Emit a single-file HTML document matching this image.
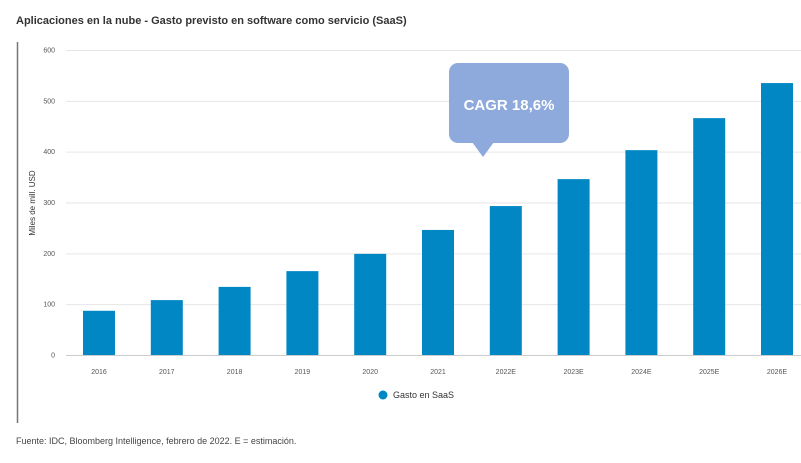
<!DOCTYPE html>
<html><head><meta charset="utf-8"><style>
body{margin:0;background:#fff;width:801px;height:458px;overflow:hidden;font-family:"Liberation Sans",sans-serif}
</style></head><body>
<svg id="c" width="801" height="458">
<text x="16" y="24" font-size="11" font-weight="bold" fill="#333">Aplicaciones en la nube - Gasto previsto en software como servicio (SaaS)</text>
<line x1="17.5" y1="42" x2="17.5" y2="423" stroke="#777" stroke-width="1.5"/>
<g id="grid"></g><g id="bars"></g><g id="xl"></g>
<text transform="translate(35,203) rotate(-90)" text-anchor="middle" font-size="8" fill="#333">Miles de mill. USD</text>
<g>
<rect x="449" y="63" width="120" height="80" rx="9" fill="#8EA9DB"/>
<polygon points="472,142 494,142 483,157" fill="#8EA9DB"/>
<text x="509" y="110" text-anchor="middle" font-size="15" font-weight="bold" fill="#fff">CAGR 18,6%</text>
</g>
<g>
<circle cx="383" cy="395" r="4.5" fill="#0287C5"/>
<text x="393" y="398" font-size="9" fill="#333">Gasto en SaaS</text>
</g>
<text x="16" y="444" font-size="9" fill="#444">Fuente: IDC, Bloomberg Intelligence, febrero de 2022. E = estimación.</text>
</svg>
<script>
const categories=["2016","2017","2018","2019","2020","2021","2022E","2023E","2024E","2025E","2026E"];
const values=[87,108,134,165,199,246,293,346,403,466,535];
const yTicks=[0,100,200,300,400,500,600];
const NS="http://www.w3.org/2000/svg";
const y=v=>355-v*0.5083, x=i=>99+i*67.8;
function mk(t,a,p,txt){const e=document.createElementNS(NS,t);for(const k in a)e.setAttribute(k,a[k]);if(txt!=null)e.textContent=txt;document.getElementById(p).appendChild(e);return e;}
yTicks.forEach(v=>{
 const l=mk("line",{x1:66,x2:801,y1:y(v)+.5,y2:y(v)+.5,stroke:v?"#e6e6e6":"#ccc"},"grid");
 
 
 const t=mk("text",{x:55,y:y(v)+2.5,"text-anchor":"end","font-size":7,fill:"#555"},"grid",v);
 
 
});
categories.forEach((c,i)=>{
 const b=mk("rect",{x:x(i)-16,y:y(values[i]),width:32,height:y(0)-y(values[i]),fill:"#0287C5"},"bars");
 
 
 const t=mk("text",{x:x(i),y:374,"text-anchor":"middle","font-size":7,fill:"#555"},"xl",c);
 
 
});
</script>
</body></html>
